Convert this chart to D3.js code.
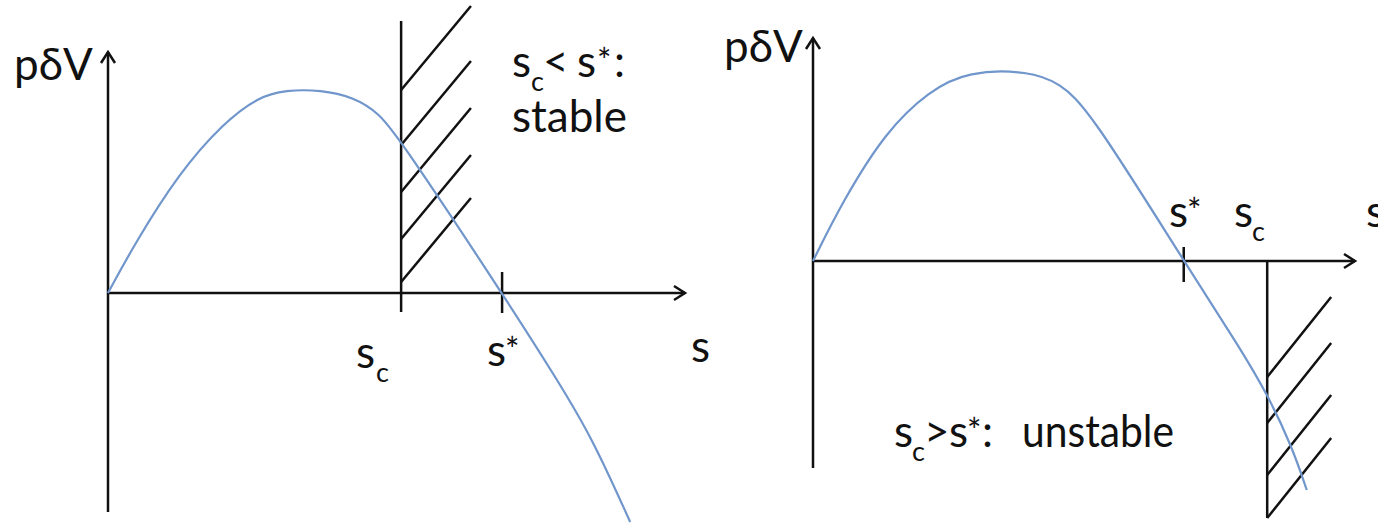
<!DOCTYPE html>
<html>
<head>
<meta charset="utf-8">
<script src="https://cdn.jsdelivr.net/npm/d3@7"></script>
<style>
  html, body { margin: 0; padding: 0; background: #fff; }
  svg { display: block; }
  text { font-family: Lato, "Open Sans", sans-serif; fill: #111; }
</style>
</head>
<body>
<svg id="chart" width="1378" height="523"></svg>
<script>
// curve samples (s, pδV)
const leftS  = [0, 0.45, 1.23, 2.0, 2.6, 3.08, 3.69, 4.25, 4.7, 5.08, 6.83, 7.80, 8.40, 9.05];
const leftP  = [0, 2.4, 6.0, 8.5, 9.8, 10.15, 10.15, 9.8, 9.0, 7.6, 0, -4.4, -7.3, -11.45];
const rightS = [0, 0.55, 1.35, 2.14, 2.86, 3.99, 4.55, 5.09, 6.84, 7.88, 8.39, 8.84, 9.11];
const rightP = [0, 3.0, 6.5, 8.5, 9.5, 9.5, 8.9, 7.6, 0, -4.35, -6.7, -9.3, -11.45];

// critical points
const sCritical = [5.08, 8.38];   // s_c, left / right
const sStar     = [6.83, 6.84];   // s*, left / right

// hatch starts on the s_c line (pδV) and hatch extent
const leftHatch  = [10.15, 7.4, 5.05, 2.7, 0.55];
const rightHatch = [-5.8, -8.1, -10.7, -12.85];
const hatchDs = [1.21, 1.18];
const hatchDp = [4.2, 4.0];

// s_c line extents and s* tick extents (pδV)
const critLine = [[13.6, -0.95], [0, -12.85]];
const starTick = [[1.05, -1.0], [0.7, -1.05]];

const svg = d3.select("#chart");
svg.append("rect").attr("width", 1378).attr("height", 523).attr("fill", "#fff");

svg.append("defs").append("marker")
  .attr("id", "arrow")
  .attr("markerUnits", "userSpaceOnUse")
  .attr("viewBox", "-14 -10 20 20")
  .attr("refX", 0).attr("refY", 0)
  .attr("markerWidth", 20).attr("markerHeight", 20)
  .attr("orient", "auto")
  .append("path")
  .attr("d", "M-11,-7 L0,0 L-11,7")
  .attr("fill", "none")
  .attr("stroke", "#111")
  .attr("stroke-width", 2.5);

const panels = [
  { s: leftS, p: leftP, xr: [108, 685], yAxis: 293, yTop: 52, yBottom: 512, sx: 57.7 },
  { s: rightS, p: rightP, xr: [813, 1355], yAxis: 261, yTop: 38, yBottom: 468, sx: 54.2 }
];

const blue = "#7096cc";
const black = "#111";

panels.forEach((pn, i) => {
  const x = d3.scaleLinear().domain([0, (pn.xr[1] - pn.xr[0]) / pn.sx]).range(pn.xr);
  const y = d3.scaleLinear().domain([0, 10]).range([pn.yAxis, pn.yAxis - 200]);
  const g = svg.append("g");

  // axes
  g.append("line")
    .attr("x1", x(0)).attr("x2", x(0))
    .attr("y1", pn.yBottom).attr("y2", pn.yTop)
    .attr("stroke", black).attr("stroke-width", 2.5)
    .attr("marker-end", "url(#arrow)");
  g.append("line")
    .attr("x1", x(0)).attr("x2", pn.xr[1])
    .attr("y1", y(0)).attr("y2", y(0))
    .attr("stroke", black).attr("stroke-width", 2.5)
    .attr("marker-end", "url(#arrow)");

  // s_c line + hatching
  const sc = sCritical[i];
  g.append("line")
    .attr("x1", x(sc)).attr("x2", x(sc))
    .attr("y1", y(critLine[i][0])).attr("y2", y(critLine[i][1]))
    .attr("stroke", black).attr("stroke-width", 2.5);
  const hatch = i === 0 ? leftHatch : rightHatch;
  g.selectAll(".hatch").data(hatch).join("line")
    .attr("x1", x(sc)).attr("y1", d => y(d))
    .attr("x2", x(sc + hatchDs[i])).attr("y2", d => y(d + hatchDp[i]))
    .attr("stroke", black).attr("stroke-width", 2.5);

  // s* tick
  g.append("line")
    .attr("x1", x(sStar[i])).attr("x2", x(sStar[i]))
    .attr("y1", y(starTick[i][0])).attr("y2", y(starTick[i][1]))
    .attr("stroke", black).attr("stroke-width", 2.5);

  // curve
  const pts = pn.s.map((v, k) => [v, pn.p[k]]);
  g.append("path")
    .datum(pts)
    .attr("d", d3.line().x(d => x(d[0])).y(d => y(d[1])).curve(d3.curveBasis))
    .attr("fill", "none")
    .attr("stroke", blue)
    .attr("stroke-width", 2.2);
});

// labels: each piece placed at its own x
function label(y0, parts) {
  const t = svg.append("text").attr("y", y0).attr("font-size", 44);
  parts.forEach(p => {
    const ts = t.append("tspan").text(p.t).attr("x", p.x);
    if (p.k === "sub") ts.attr("font-size", 27).attr("y", y0 + 14);
    else if (p.k === "sup") ts.attr("font-size", 34).attr("y", y0 - 4);
    else ts.attr("y", y0);
    if (p.len) ts.attr("textLength", p.len).attr("lengthAdjust", "spacingAndGlyphs");
  });
  return t;
}

// left panel
label(80, [{ t: "pδV", x: 14 }]);
label(368, [{ t: "s", x: 356 }, { t: "c", x: 376, k: "sub" }]);
label(366, [{ t: "s", x: 487 }, { t: "*", x: 505, k: "sup" }]);
label(362, [{ t: "s", x: 691 }]);
label(77, [{ t: "s", x: 512 }, { t: "c", x: 531, k: "sub" }, { t: "<", x: 543 }, { t: "s", x: 577 }, { t: "*", x: 597, k: "sup" }, { t: ":", x: 614 }]);
label(132, [{ t: "stable", x: 512 }]);

// right panel
label(62, [{ t: "pδV", x: 724 }]);
label(227, [{ t: "s", x: 1169 }, { t: "*", x: 1187, k: "sup" }]);
label(227, [{ t: "s", x: 1234 }, { t: "c", x: 1252, k: "sub" }]);
label(227, [{ t: "s", x: 1366 }]);
label(447, [{ t: "s", x: 894 }, { t: "c", x: 912, k: "sub" }, { t: ">", x: 924 }, { t: "s", x: 949 }, { t: "*", x: 967, k: "sup" }, { t: ":", x: 982 }, { t: "unstable", x: 1022, len: 152 }]);
</script>
</body>
</html>
